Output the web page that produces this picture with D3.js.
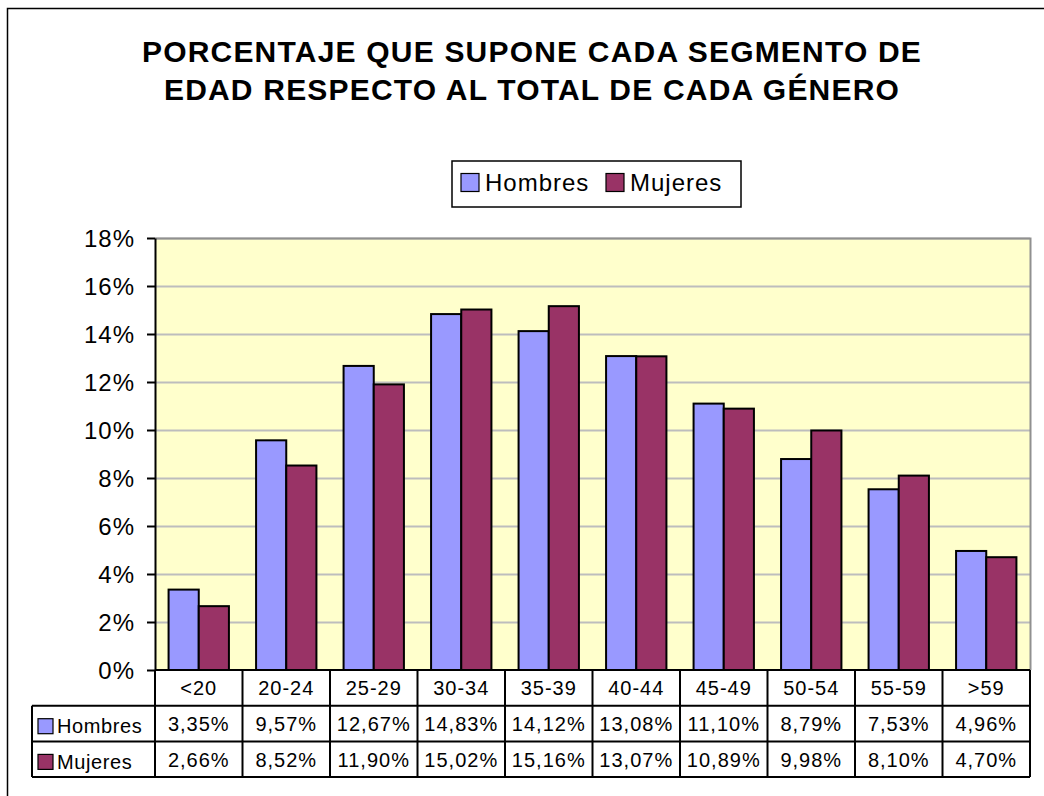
<!DOCTYPE html>
<html lang="es">
<head>
<meta charset="UTF-8">
<title>Porcentaje por segmento de edad</title>
<script src="https://cdn.jsdelivr.net/npm/d3@7"></script>
<style>
  body { margin: 0; background: #fff; }
  svg text { font-family: "Liberation Sans", Arial, sans-serif; fill: #000; }
</style>
</head>
<body>
<script>
var categories = ["<20", "20-24", "25-29", "30-34", "35-39", "40-44", "45-49", "50-54", "55-59", ">59"];
var seriesNames = ["Hombres", "Mujeres"];
var hombres = [3.35, 9.57, 12.67, 14.83, 14.12, 13.08, 11.10, 8.79, 7.53, 4.96];
var mujeres = [2.66, 8.52, 11.90, 15.02, 15.16, 13.07, 10.89, 9.98, 8.10, 4.70];
var yTicks = [0, 2, 4, 6, 8, 10, 12, 14, 16, 18];
var colors = ["#9999FF", "#993366"];

var width = 1044, height = 796;
var plot = {left: 155, right: 1030, top: 238, bottom: 670};
var rowH = 35.7;    // alto de cada fila de la tabla
var tableLeft = 32;

var svg = d3.select("body").append("svg")
    .attr("width", width).attr("height", height);

// borde del área del gráfico
svg.append("rect")
    .attr("x", 7.5).attr("y", 8.5)
    .attr("width", width + 10).attr("height", height + 10)
    .attr("fill", "none").attr("stroke", "#000").attr("stroke-width", 1.5);

// título
var title = svg.append("text")
    .attr("text-anchor", "middle")
    .attr("font-size", "30px").attr("font-weight", "bold")
    .attr("letter-spacing", "1.2px");
title.append("tspan").attr("x", 532).attr("y", 62).text("PORCENTAJE QUE SUPONE CADA SEGMENTO DE");
title.append("tspan").attr("x", 532).attr("y", 100).text("EDAD RESPECTO AL TOTAL DE CADA GÉNERO");

// leyenda
var legend = svg.append("g");
legend.append("rect")
    .attr("x", 452).attr("y", 161).attr("width", 289).attr("height", 46)
    .attr("fill", "#fff").attr("stroke", "#000").attr("stroke-width", 1.5);
var legX = [461, 606];
seriesNames.forEach(function(name, i){
    legend.append("rect")
        .attr("x", legX[i]).attr("y", 173.5).attr("width", 18).attr("height", 18)
        .attr("fill", colors[i]).attr("stroke", "#000").attr("stroke-width", 1.2);
    legend.append("text")
        .attr("x", legX[i] + 24).attr("y", 191)
        .attr("font-size", "24px").attr("letter-spacing", "1px").text(name);
});

// escalas
var x0 = d3.scaleBand().domain(categories)
    .range([plot.left, plot.right]).paddingInner(0).paddingOuter(0);
var x1 = d3.scaleBand().domain(seriesNames)
    .range([0, x0.bandwidth()]).paddingInner(0).paddingOuter(0.45);
var y = d3.scaleLinear().domain([0, 18]).range([plot.bottom, plot.top]);

// fondo del área de trazado
svg.append("rect")
    .attr("x", plot.left).attr("y", plot.top)
    .attr("width", plot.right - plot.left).attr("height", plot.bottom - plot.top)
    .attr("fill", "#FFFFCC");

// líneas de división
svg.append("g").selectAll("line")
    .data(yTicks.filter(function(d){ return d > 0; }))
    .enter().append("line")
    .attr("x1", plot.left).attr("x2", plot.right)
    .attr("y1", function(d){ return Math.round(y(d)) + 0.5; })
    .attr("y2", function(d){ return Math.round(y(d)) + 0.5; })
    .attr("stroke", "#BDBDBD").attr("stroke-width", 2);

// borde gris del área
svg.append("path")
    .attr("d", "M" + plot.left + "," + (plot.top + 0.5) + "H" + (plot.right + 0.5) + "V" + plot.bottom)
    .attr("fill", "none").attr("stroke", "#909090").attr("stroke-width", 2);

// barras
var data = categories.map(function(c, i){
    return {cat: c, values: [hombres[i], mujeres[i]]};
});
var groups = svg.append("g").selectAll("g")
    .data(data).enter().append("g")
    .attr("transform", function(d){ return "translate(" + x0(d.cat) + ",0)"; });
groups.selectAll("rect")
    .data(function(d){ return d.values.map(function(v, i){ return {s: seriesNames[i], v: v, i: i}; }); })
    .enter().append("rect")
    .attr("x", function(d){ return x1(d.s); })
    .attr("y", function(d){ return y(d.v); })
    .attr("width", x1.bandwidth())
    .attr("height", function(d){ return y(0) - y(d.v); })
    .attr("fill", function(d){ return colors[d.i]; })
    .attr("stroke", "#000").attr("stroke-width", 2);

// eje Y
var yAxis = d3.axisLeft(y).tickValues(yTicks)
    .tickFormat(function(d){ return d + "%"; })
    .tickSize(8).tickSizeOuter(0).tickPadding(12);
var gy = svg.append("g")
    .attr("transform", "translate(" + plot.left + ",0)")
    .call(yAxis);
gy.selectAll("text").attr("font-size", "24px").attr("letter-spacing", "1px").attr("dy", "0.36em");
gy.selectAll("line").attr("stroke", "#000").attr("stroke-width", 2);
gy.select(".domain").attr("stroke", "#000").attr("stroke-width", 2);

// tabla de datos
var table = svg.append("g");
var rowTop = [plot.bottom, plot.bottom + rowH, plot.bottom + 2 * rowH];
var tableBottom = plot.bottom + 3 * rowH;

// líneas horizontales
table.append("line")
    .attr("x1", plot.left).attr("x2", plot.right)
    .attr("y1", plot.bottom).attr("y2", plot.bottom)
    .attr("stroke", "#000").attr("stroke-width", 2);
[rowTop[1], rowTop[2], tableBottom].forEach(function(yy){
    table.append("line")
        .attr("x1", tableLeft).attr("x2", plot.right)
        .attr("y1", yy).attr("y2", yy)
        .attr("stroke", "#000").attr("stroke-width", 2);
});
// líneas verticales
table.append("line")
    .attr("x1", tableLeft).attr("x2", tableLeft)
    .attr("y1", rowTop[1]).attr("y2", tableBottom)
    .attr("stroke", "#000").attr("stroke-width", 2);
table.selectAll("line.col")
    .data(categories.map(function(c){ return x0(c); }).concat([plot.right]))
    .enter().append("line").attr("class", "col")
    .attr("x1", function(d){ return d; }).attr("x2", function(d){ return d; })
    .attr("y1", plot.bottom).attr("y2", tableBottom)
    .attr("stroke", "#000").attr("stroke-width", 2);

// etiquetas de categoría
table.selectAll("text.cat")
    .data(categories).enter().append("text").attr("class", "cat")
    .attr("x", function(d){ return x0(d) + x0.bandwidth() / 2; })
    .attr("y", plot.bottom + rowH / 2 + 7.5)
    .attr("text-anchor", "middle").attr("font-size", "20px").attr("letter-spacing", "1px")
    .text(function(d){ return d; });

// filas de valores
var fmt = function(v){ return v.toFixed(2).replace(".", ",") + "%"; };
[hombres, mujeres].forEach(function(vals, si){
    var ty = rowTop[si + 1];
    table.append("rect")
        .attr("x", tableLeft + 6).attr("y", ty + 13)
        .attr("width", 15).attr("height", 15)
        .attr("fill", colors[si]).attr("stroke", "#000").attr("stroke-width", 1.2);
    table.append("text")
        .attr("x", tableLeft + 25).attr("y", ty + 27.5)
        .attr("font-size", "20px").attr("letter-spacing", "0.6px").text(seriesNames[si]);
    table.selectAll("text.v" + si)
        .data(vals).enter().append("text").attr("class", "v" + si)
        .attr("x", function(d, i){ return x0(categories[i]) + x0.bandwidth() / 2; })
        .attr("y", ty + rowH / 2 + 7.5)
        .attr("text-anchor", "middle").attr("font-size", "20px").attr("letter-spacing", "1px")
        .text(fmt);
});
</script>
</body>
</html>
